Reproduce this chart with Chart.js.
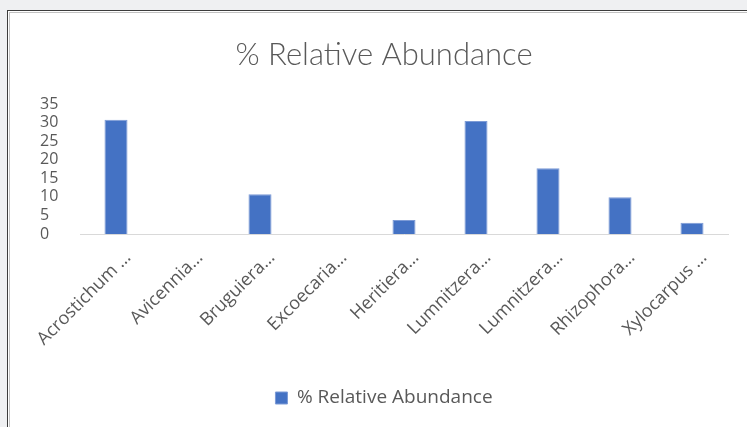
<!DOCTYPE html>
<html lang="en">
<head>
    <meta charset="UTF-8">
    <title>% Relative Abundance</title>
    <script src="https://cdn.jsdelivr.net/npm/chart.js"></script>
    <style>
        html, body { margin: 0; padding: 0; background: #eff0f2; overflow: hidden; }
        .moldura {
            position: absolute; left: 7px; top: 10px; width: 760px; height: 430px;
            background: #fff; border: 1px solid #3c3c3c;
            box-shadow: inset 0 0 0 1px #fff, inset 0 0 0 2px #c2c2c2;
        }
        #grafico { position: absolute; left: 0; top: 0; }
    </style>
</head>
<body>
    <div class="moldura"></div>
    <canvas id="grafico" width="747" height="427"></canvas>
<script>
    // dados
    var especies = ['Acrostichum …', 'Avicennia…', 'Bruguiera…', 'Excoecaria…', 'Heritiera…',
        'Lumnitzera…', 'Lumnitzera…', 'Rhizophora…', 'Xylocarpus …'];
    var abundancia = [30.8, 0, 10.7, 0, 3.8, 30.5, 17.7, 9.9, 3.0];
    var ticksY = [0, 5, 10, 15, 20, 25, 30, 35];

    var cinza = '#595959';
    var fonte = '"Open Sans", Lato, sans-serif';

    const data = {
        labels: especies,
        datasets: [{
            label: '% Relative Abundance',
            backgroundColor: '#4472C4',
            borderColor: '#7d9bd6',
            borderWidth: 1,
            barPercentage: 0.32,
            categoryPercentage: 1,
            data: abundancia
        }]
    };

    var options = {
        responsive: false,
        animation: false,
        layout: {
            padding: { top: 0, left: 40, right: 19, bottom: 9.5 }
        },
        plugins: {
            title: {
                display: true,
                text: '% Relative Abundance',
                color: cinza,
                font: { family: 'Lato, "Open Sans", sans-serif', size: 31, weight: '300' },
                padding: { top: 36, bottom: 31 }
            },
            legend: {
                position: 'bottom',
                labels: {
                    color: cinza,
                    font: { family: fonte, size: 19 },
                    boxWidth: 12,
                    boxHeight: 12,
                    padding: 10
                }
            },
            tooltip: { enabled: false }
        },
        scales: {
            y: {
                min: ticksY[0],
                max: ticksY[ticksY.length - 1],
                afterBuildTicks: function (scale) {
                    scale.ticks = ticksY.map(function (v) { return { value: v }; });
                },
                afterFit: function (scale) { scale.width = 40; },
                grid: { display: false, drawTicks: false },
                border: { display: false },
                ticks: {
                    color: cinza,
                    crossAlign: 'far',
                    autoSkip: false,
                    font: { family: fonte, size: 16 }
                }
            },
            x: {
                afterFit: function (scale) {
                    scale.height = 144.5;
                    scale.paddingLeft = 0;
                    scale.paddingRight = 0;
                },
                grid: { display: false, drawTicks: false },
                border: { display: true, color: '#d9d9d9', width: 1 },
                ticks: {
                    color: cinza,
                    minRotation: 45,
                    maxRotation: 45,
                    autoSkip: false,
                    padding: 13,
                    labelOffset: 12,
                    font: { family: fonte, size: 18 }
                }
            }
        }
    };

    const config = {
        type: 'bar',
        data: data,
        options: options
    };
    const myChart = new Chart(document.getElementById('grafico'), config);
</script>
</body>
</html>
